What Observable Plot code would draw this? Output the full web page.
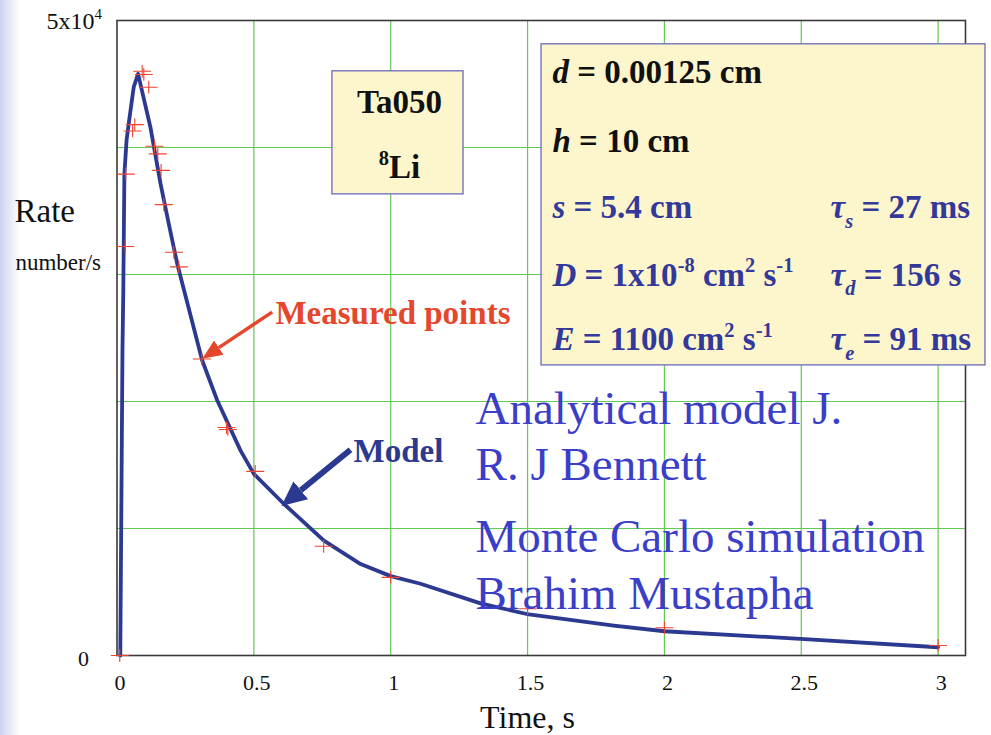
<!DOCTYPE html>
<html><head><meta charset="utf-8">
<script src="https://cdn.jsdelivr.net/npm/d3@7"></script>
<script src="https://cdn.jsdelivr.net/npm/@observablehq/plot@0.6"></script>
<style>
html,body{margin:0;padding:0;}
body{background:linear-gradient(to right,#cdd1ef 0px,#e3e6f7 9px,#ffffff 20px);width:991px;height:735px;overflow:hidden;}
#chart svg{display:block;background:transparent;}
</style></head><body><div id="chart"></div>
<script>
const SERIF = "'Liberation Serif','Times New Roman',serif";
// Measured points (red crosses): time [s], rate [number/s]
const measTime = [0.01, 0.030, 0.032, 0.057, 0.065, 0.092, 0.098, 0.116, 0.137, 0.149, 0.161, 0.171, 0.208, 0.226, 0.31, 0.40, 0.405, 0.505, 0.755, 1.0, 1.5, 2.0, 3.0];
const measRate = [0, 32200, 37900, 41300, 41800, 46000, 45750, 44750, 40100, 39500, 38200, 35500, 31750, 30600, 23350, 17950, 17800, 14500, 8600, 6150, 3680, 2180, 790];
// Model curve (blue)
const modelTime = [0.012, 0.016, 0.020, 0.023, 0.027, 0.035, 0.043, 0.061, 0.077, 0.122, 0.159, 0.189, 0.220, 0.311, 0.366, 0.451, 0.5, 0.609, 0.756, 0.89, 1.0, 1.109, 1.328, 1.505, 1.815, 2.0, 2.497, 3.0];
const modelRate = [0, 12000, 24000, 28700, 37900, 40600, 41900, 44750, 45800, 41600, 37150, 34000, 30850, 23250, 20100, 16150, 14300, 11950, 9050, 7200, 6250, 5650, 4100, 3230, 2360, 1910, 1310, 650];
// Axes
const xTicks = [0, 0.5, 1, 1.5, 2, 2.5, 3];
const xTickLabels = ["0", "0.5", "1", "1.5", "2", "2.5", "3"];
const xGrid = [0.5, 1, 1.5, 2, 2.5, 3];
const yGrid = [10000, 20000, 30000, 40000, 50000];
const yTickValues = [0, 50000];
const yTickLabels = ["0", "5x10^{4}"];
// Annotation boxes
const boxX1 = [1.551, 0.787];
const boxX2 = [3.173, 1.266];
const boxY1 = [22842, 36310];
const boxY2 = [48126, 45999];
// Parameter text
const paramText = ["*d* = 0.00125 cm", "*h* = 10 cm", "*s* = 5.4 cm", "*D* = 1x10^{-8} cm^{2} s^{-1}", "*E* = 1100 cm^{2} s^{-1}"];
const paramColor = ["#111111", "#111111", "#33399a", "#33399a", "#33399a"];
const paramY = [45040, 39630, 34410, 29130, 24020];
const tauText = ["*τ*_{*s*} = 27 ms", "*τ*_{*d*} = 156 s", "*τ*_{*e*} = 91 ms"];
const tauY = [34410, 29130, 24020];
const sampleText = ["Ta050", "^{8}Li"];
const sampleY = [42690, 37570];
const noteText = ["Analytical model J.", "R. J Bennett", "Monte Carlo simulation", "Brahim Mustapha"];
const noteY = [18244, 13780, 8134, 3700];
// Arrows: [measured, model]
const arrowX1 = [0.567, 0.853];
const arrowY1 = [27040, 16200];
const arrowX2 = [0.372, 0.6715];
const arrowY2 = [24244, 13012];

const BLUE = "#2b3990", RED = "#e4472c", NOTE = "#3a3ec8", GRID = "#62c952";

const crossSymbol = {
  draw(ctx, size) {
    const r = Math.sqrt(size / Math.PI);
    ctx.moveTo(-r * 1.2, 0); ctx.lineTo(r * 1.2, 0);
    ctx.moveTo(0, -r * 0.85); ctx.lineTo(0, r * 0.85);
  }
};

const plot = Plot.plot({
  width: 991, height: 735,
  marginTop: 20, marginBottom: 80, marginLeft: 116.5, marginRight: 26,
  x: {domain: [0, 3.1], axis: null},
  y: {domain: [0, 50000], axis: null},
  color: {type: "identity"},
  style: {background: "transparent", fontFamily: SERIF},
  marks: [
    Plot.ruleX(xGrid, {stroke: GRID, strokeWidth: 1.2}),
    Plot.ruleY(yGrid, {stroke: GRID, strokeWidth: 1.2}),
    Plot.frame({stroke: "#3a3a3a", strokeWidth: 1.6}),
    Plot.line(modelTime, {x: modelTime, y: modelRate, stroke: BLUE, strokeWidth: 3.8, strokeLinejoin: "round"}),
    Plot.dot(measTime, {x: measTime, y: measRate, symbol: crossSymbol, r: 7.5, stroke: "#ee4430", strokeWidth: 1.1, fill: "none"}),
    Plot.rect(boxX1, {x1: boxX1, x2: boxX2, y1: boxY1, y2: boxY2, fill: "#fdf6cc", stroke: "#6a6ab8", strokeWidth: 1.3}),
    Plot.text(sampleText, {x: 1.032, y: sampleY, text: d => d, fontSize: 33, fontWeight: "bold", fill: "#111", lineAnchor: "bottom", ariaDescription: "rich33"}),
    Plot.text(paramText, {x: 1.591, y: paramY, text: d => d, fill: paramColor, fontSize: 33, fontWeight: "bold", textAnchor: "start", lineAnchor: "bottom", ariaDescription: "rich33"}),
    Plot.text(tauText, {x: 2.607, y: tauY, text: d => d, fill: "#33399a", fontSize: 33, fontWeight: "bold", textAnchor: "start", lineAnchor: "bottom", ariaDescription: "rich33"}),
    Plot.text(xTicks, {x: xTicks, y: 0, text: (d, i) => xTickLabels[i], fontSize: 22, fill: "#111", lineAnchor: "top", dy: 19, dx: 3}),
    Plot.text([yTickValues[0]], {y: [yTickValues[0]], text: [yTickLabels[0]], frameAnchor: "left", textAnchor: "end", dx: -28, dy: 3, fontSize: 22, fill: "#111"}),
    Plot.text([yTickValues[1]], {y: [yTickValues[1]], text: [yTickLabels[1]], frameAnchor: "left", textAnchor: "end", dx: -15, dy: 1, fontSize: 24, fill: "#111", ariaDescription: "rich24"}),
    Plot.text(["Rate"], {x: -0.3745, y: 34105, text: d => d, fontSize: 33, fill: "#111", textAnchor: "start", lineAnchor: "bottom"}),
    Plot.text(["number/s"], {x: -0.371, y: 30325, text: d => d, fontSize: 23, fill: "#111", textAnchor: "start", lineAnchor: "bottom"}),
    Plot.text(["Time, s"], {x: 1.4998, y: -5671, text: d => d, fontSize: 32, fill: "#111", lineAnchor: "bottom"}),
    Plot.link([0], {x1: arrowX1[0], y1: arrowY1[0], x2: arrowX2[0], y2: arrowY2[0], stroke: RED, strokeWidth: 3.5, ariaDescription: "arrow-red"}),
    Plot.link([1], {x1: arrowX1[1], y1: arrowY1[1], x2: arrowX2[1], y2: arrowY2[1], stroke: BLUE, strokeWidth: 6, ariaDescription: "arrow-blue"}),
    Plot.text(["Measured points"], {x: 0.579, y: 26127, text: d => d, fontSize: 33, fontWeight: "bold", fill: RED, textAnchor: "start", lineAnchor: "bottom"}),
    Plot.text(["Model"], {x: 0.864, y: 15225, text: d => d, fontSize: 33, fontWeight: "bold", fill: BLUE, textAnchor: "start", lineAnchor: "bottom"}),
    Plot.text(noteText, {x: 1.31, y: noteY, text: d => d, fontSize: 47, fill: NOTE, textAnchor: "start", lineAnchor: "bottom"})
  ]
});

const NS = "http://www.w3.org/2000/svg";
function richify(el, fs) {
  const src = el.textContent;
  const segs = [];
  let italic = false, mode = 0, buf = "";
  const push = () => { if (buf) segs.push({t: buf, italic, mode}); buf = ""; };
  for (let i = 0; i < src.length; i++) {
    const c = src[i];
    if (c === "*") { push(); italic = !italic; }
    else if ((c === "_" || c === "^") && src[i + 1] === "{") { push(); mode = c === "_" ? -1 : 1; i++; }
    else if (c === "}" && mode !== 0) { push(); mode = 0; }
    else buf += c;
  }
  push();
  el.textContent = "";
  let cur = 0;
  for (const s of segs) {
    const ts = document.createElementNS(NS, "tspan");
    ts.textContent = s.t;
    if (s.italic) ts.setAttribute("font-style", "italic");
    const target = s.mode === 1 ? -0.42 * fs : s.mode === -1 ? 0.28 * fs : 0;
    if (target !== cur) { ts.setAttribute("dy", target - cur); cur = target; }
    if (s.mode !== 0) ts.setAttribute("font-size", 0.62 * fs);
    el.appendChild(ts);
  }
}
plot.querySelectorAll('[aria-description="rich33"] text').forEach(t => richify(t, 33));
plot.querySelectorAll('[aria-description="rich24"] text').forEach(t => richify(t, 24));

// filled arrowheads
const defs = document.createElementNS(NS, "defs");
function addHead(id, color, len, half) {
  const m = document.createElementNS(NS, "marker");
  m.setAttribute("id", id);
  m.setAttribute("markerUnits", "userSpaceOnUse");
  m.setAttribute("viewBox", "0 -20 40 40");
  m.setAttribute("markerWidth", 40);
  m.setAttribute("markerHeight", 40);
  m.setAttribute("refX", 0);
  m.setAttribute("refY", 0);
  m.setAttribute("orient", "auto");
  const p = document.createElementNS(NS, "path");
  p.setAttribute("d", `M0,${-half}L${len},0L0,${half}Z`);
  p.setAttribute("fill", color);
  m.appendChild(p);
  defs.appendChild(m);
}
addHead("head-red", RED, 20, 8.5);
addHead("head-blue", BLUE, 25, 11.5);
plot.insertBefore(defs, plot.firstChild);
plot.querySelectorAll('[aria-description="arrow-red"] path').forEach(p => p.setAttribute("marker-end", "url(#head-red)"));
plot.querySelectorAll('[aria-description="arrow-blue"] path').forEach(p => p.setAttribute("marker-end", "url(#head-blue)"));

document.getElementById("chart").appendChild(plot);
</script>
</body></html>
